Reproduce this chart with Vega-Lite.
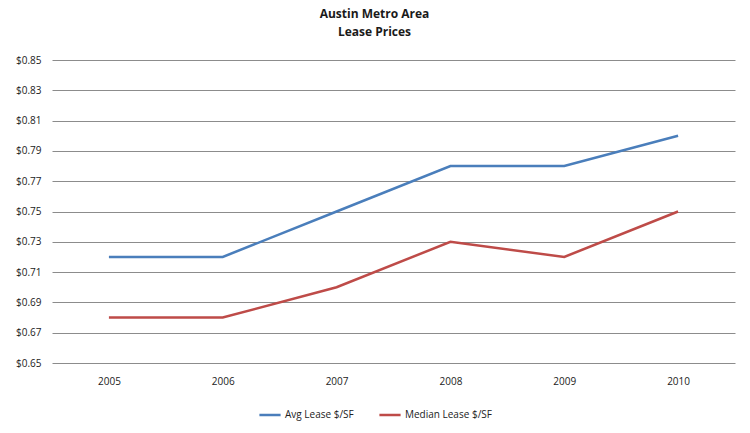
{
  "$schema": "https://vega.github.io/schema/vega-lite/v6.json",
  "width": 683,
  "height": 303,
  "autosize": {"type": "none"},
  "padding": {"left": 52, "top": 60, "right": 15, "bottom": 70},
  "background": "white",
  "title": {
    "text": ["Austin Metro Area", "Lease Prices"],
    "anchor": "middle",
    "dx": -19,
    "offset": 16,
    "fontSize": 12,
    "font": "Open Sans",
    "fontWeight": "bold",
    "color": "#1a1a1a",
    "lineHeight": 18
  },
  "data": {
    "values": [
      {"year": "2005", "series": "Avg Lease $/SF", "price": 0.72},
      {"year": "2006", "series": "Avg Lease $/SF", "price": 0.72},
      {"year": "2007", "series": "Avg Lease $/SF", "price": 0.75},
      {"year": "2008", "series": "Avg Lease $/SF", "price": 0.78},
      {"year": "2009", "series": "Avg Lease $/SF", "price": 0.78},
      {"year": "2010", "series": "Avg Lease $/SF", "price": 0.80},
      {"year": "2005", "series": "Median Lease $/SF", "price": 0.68},
      {"year": "2006", "series": "Median Lease $/SF", "price": 0.68},
      {"year": "2007", "series": "Median Lease $/SF", "price": 0.70},
      {"year": "2008", "series": "Median Lease $/SF", "price": 0.73},
      {"year": "2009", "series": "Median Lease $/SF", "price": 0.72},
      {"year": "2010", "series": "Median Lease $/SF", "price": 0.75}
    ]
  },
  "mark": {"type": "line", "strokeWidth": 2.5},
  "encoding": {
    "x": {
      "field": "year",
      "type": "ordinal",
      "scale": {"type": "point", "padding": 0.5},
      "axis": {
        "title": null,
        "labelAngle": 0,
        "domain": false,
        "ticks": false,
        "grid": false,
        "labelPadding": 13,
        "labelFont": "Open Sans",
        "labelFontSize": 10,
        "labelColor": "#222"
      }
    },
    "y": {
      "field": "price",
      "type": "quantitative",
      "scale": {"domain": [0.65, 0.85], "nice": false, "zero": false},
      "axis": {
        "title": null,
        "values": [0.65, 0.67, 0.69, 0.71, 0.73, 0.75, 0.77, 0.79, 0.81, 0.83, 0.85],
        "format": "$.2f",
        "domain": false,
        "ticks": false,
        "grid": true,
        "gridColor": "#8c8c8c",
        "gridWidth": 1,
        "labelPadding": 11,
        "labelFont": "Open Sans",
        "labelFontSize": 10,
        "labelColor": "#222"
      }
    },
    "color": {
      "field": "series",
      "type": "nominal",
      "scale": {"domain": ["Avg Lease $/SF", "Median Lease $/SF"], "range": ["#4a7ebb", "#be4b48"]},
      "legend": {
        "title": null,
        "orient": "none",
        "direction": "horizontal",
        "legendX": 206,
        "legendY": 343,
        "symbolType": "stroke",
        "symbolSize": 450,
        "symbolStrokeWidth": 2.5,
        "labelFont": "Open Sans",
        "labelFontSize": 10,
        "labelColor": "#222",
        "columnPadding": 20,
        "labelOffset": 3
      }
    }
  },
  "config": {"view": {"stroke": null}}
}
